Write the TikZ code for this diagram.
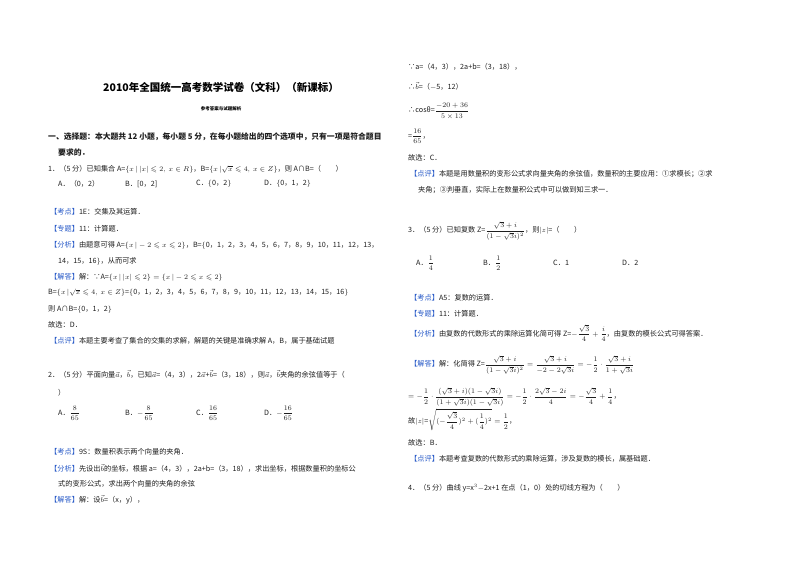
\documentclass[tikz,border=0pt]{standalone}
\usepackage{fontspec}
\usepackage{amsmath,amssymb}
\setmainfont{Noto Sans CJK SC}
\definecolor{lbl}{RGB}{40,90,200}
\definecolor{txt}{RGB}{30,30,30}
\newcounter{tn}
\newcommand{\T}[3]{\stepcounter{tn}\node[body] (t\arabic{tn}) at (#1,#2) {#3};}
\newcommand{\Lb}[1]{{\color{lbl}【#1】}}
\let\f\dfrac
\begin{document}
\begin{tikzpicture}[x=1pt,y=-1pt,
  body/.style={anchor=west,inner sep=0pt,font=\fontsize{7.2}{8}\selectfont,text=txt}]
\useasboundingbox[fill=white] (0,0) rectangle (800,565);
\node[inner sep=0pt,font=\fontsize{10.5}{12}\selectfont\bfseries] (title) at (221,87) {2010年全国统一高考数学试卷（文科）（新课标）};
\node[inner sep=0pt,font=\fontsize{4.5}{5}\selectfont\bfseries] (sub) at (221,109) {参考答案与试题解析};
\T{48}{137}{\bfseries\fontsize{7.8}{9}\selectfont 一、选择题：本大题共 12 小题，每小题 5 分，在每小题给出的四个选项中，只有一项是符合题目}
\T{58}{153}{\bfseries\fontsize{7.8}{9}\selectfont 要求的．}
\T{48}{169}{1．（5 分）已知集合 A=$\{x\,|\,|x|\leqslant 2,\ x\in R\}$，B=$\{x\,|\sqrt{x}\leqslant 4,\ x\in Z\}$，则 A∩B=（\qquad ）}
\T{58}{184}{A．（0，2）}
\T{125}{184}{B．[0，2]}
\T{196}{184}{C．$\{$0，2$\}$}
\T{264}{184}{D．$\{$0，1，2$\}$}
\T{50}{212}{\Lb{考点}1E：交集及其运算．}
\T{50}{229}{\Lb{专题}11：计算题．}
\T{50}{245}{\Lb{分析}由题意可得 A=$\{x\,|-2\leqslant x\leqslant 2\}$，B=$\{$0，1，2，3，4，5，6，7，8，9，10，11，12，13，}
\T{58}{261}{14，15，16$\}$，从而可求}
\T{50}{277}{\Lb{解答}解：∵A=$\{x\,|\,|x|\leqslant 2\}=\{x\,|-2\leqslant x\leqslant 2\}$}
\T{48}{293}{B=$\{x\,|\sqrt{x}\leqslant 4,\ x\in Z\}$=$\{$0，1，2，3，4，5，6，7，8，9，10，11，12，13，14，15，16$\}$}
\T{48}{309}{则 A∩B=$\{$0，1，2$\}$}
\T{48}{325}{故选：D．}
\T{50}{341}{\Lb{点评}本题主要考查了集合的交集的求解，解题的关键是准确求解 A，B，属于基础试题}
\T{48}{374}{2．（5 分）平面向量$\vec a$，$\vec b$，已知$\vec a$=（4，3），2$\vec a$+$\vec b$=（3，18），则$\vec a$，$\vec b$夹角的余弦值等于（}
\T{58}{393}{）}
\T{58}{413}{A．$\f{8}{65}$}
\T{125}{413}{B．$-\f{8}{65}$}
\T{196}{413}{C．$\f{16}{65}$}
\T{264}{413}{D．$-\f{16}{65}$}
\T{50}{452}{\Lb{考点}9S：数量积表示两个向量的夹角．}
\T{50}{468}{\Lb{分析}先设出$\vec b$的坐标，根据 a=（4，3），2a+b=（3，18），求出坐标，根据数量积的坐标公}
\T{58}{484}{式的变形公式，求出两个向量的夹角的余弦}
\T{50}{500}{\Lb{解答}解：设$\vec b$=（x，y），}
\T{408}{67}{∵a=（4，3），2a+b=（3，18），}
\T{408}{86}{∴$\vec b$=（$-$5，12）}
\T{408}{111}{∴cosθ=$\f{-20+36}{5\times13}$}
\T{408}{136}{=$\f{16}{65}$，}
\T{408}{158}{故选：C．}
\T{410}{174}{\Lb{点评}本题是用数量积的变形公式求向量夹角的余弦值，数量积的主要应用：①求模长；②求}
\T{418}{190}{夹角；③判垂直，实际上在数量积公式中可以做到知三求一．}
\T{408}{231}{3．（5 分）已知复数 Z=$\f{\sqrt3+i}{(1-\sqrt3 i)^2}$，则$|z|$=（\qquad ）}
\T{416}{263}{A．$\f14$}
\T{483}{263}{B．$\f12$}
\T{553}{263}{C．1}
\T{622}{263}{D．2}
\T{410}{298}{\Lb{考点}A5：复数的运算．}
\T{410}{314}{\Lb{专题}11：计算题．}
\T{410}{333}{\Lb{分析}由复数的代数形式的乘除运算化简可得 Z=$-\f{\sqrt3}{4}+\f{i}{4}$，由复数的模长公式可得答案．}
\T{410}{365}{\Lb{解答}解：化简得 Z=$\f{\sqrt3+i}{(1-\sqrt3 i)^2}=\f{\sqrt3+i}{-2-2\sqrt3 i}=-\f12\cdot\f{\sqrt3+i}{1+\sqrt3 i}$}
\T{408}{397}{$=-\f12\cdot\f{(\sqrt3+i)(1-\sqrt3 i)}{(1+\sqrt3 i)(1-\sqrt3 i)}=-\f12\cdot\f{2\sqrt3-2i}{4}=-\f{\sqrt3}{4}+\f14$，}
\T{408}{420}{故$|z|$=$\sqrt{(-\f{\sqrt3}{4})^2+(\f14)^2}=\f12$，}
\T{408}{443}{故选：B．}
\T{410}{459}{\Lb{点评}本题考查复数的代数形式的乘除运算，涉及复数的模长，属基础题．}
\T{408}{488}{4．（5 分）曲线 y=x$^3-$2x+1 在点（1，0）处的切线方程为（\qquad ）}
\end{tikzpicture}
\end{document}
